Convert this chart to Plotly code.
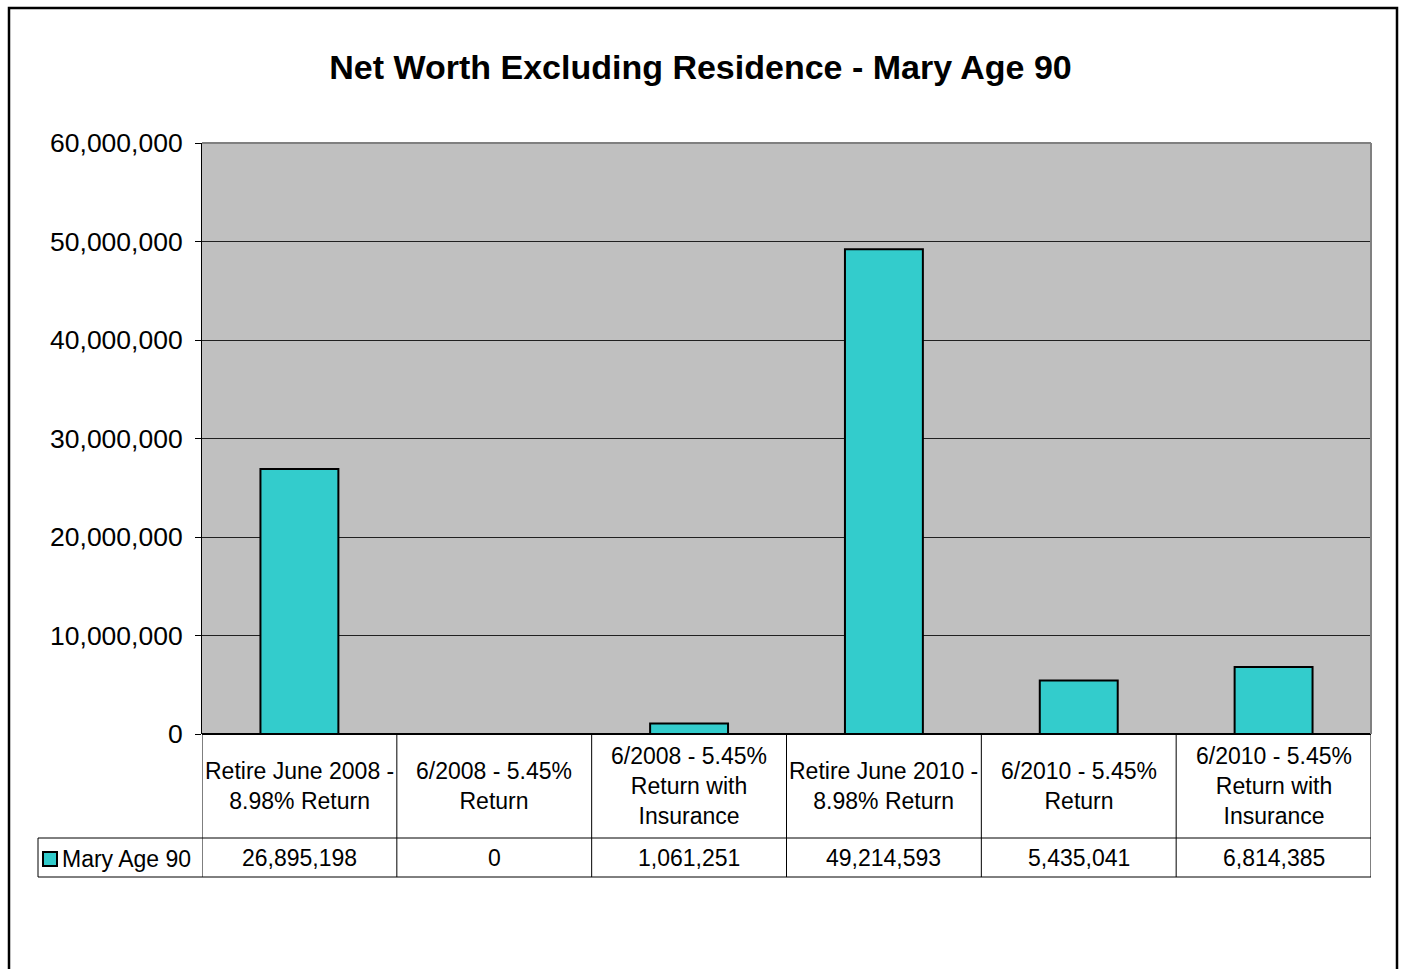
import plotly.graph_objects as go

categories = [
    "Retire June 2008 -<br>8.98% Return",
    "6/2008 - 5.45%<br>Return",
    "6/2008 - 5.45%<br>Return with<br>Insurance",
    "Retire June 2010 -<br>8.98% Return",
    "6/2010 - 5.45%<br>Return",
    "6/2010 - 5.45%<br>Return with<br>Insurance",
]
series_name = "Mary Age 90"
values = [26895198, 0, 1061251, 49214593, 5435041, 6814385]
y_ticks = [0, 10000000, 20000000, 30000000, 40000000, 50000000, 60000000]
title_text = "Net Worth Excluding Residence - Mary Age 90"

W, H = 1401, 969
FONT = "Arial, Liberation Sans, sans-serif"
TEAL = "#33CCCC"


def px_x(p):
    return p / W


def px_y(p):
    return 1 - p / H


plot_l, plot_r, plot_t, plot_b = 202, 1371, 143, 734
row1_b = 838
row2_b = 877
legend_l = 38

n = len(categories)
xcats = list(range(n))

fig = go.Figure()
fig.add_trace(go.Bar(
    x=xcats, y=values, name=series_name, width=0.4,
    marker=dict(color=TEAL, line=dict(color="black", width=2)),
    showlegend=False, hoverinfo="y",
))

shapes = []
# outer frame
shapes.append(dict(type="rect", xref="paper", yref="paper",
                   x0=px_x(9), x1=px_x(1397), y0=-0.1, y1=px_y(8),
                   line=dict(color="black", width=2.5)))
# plot-area top & right border (gray)
shapes.append(dict(type="line", xref="paper", yref="paper",
                   x0=px_x(plot_l), x1=px_x(plot_r), y0=px_y(plot_t), y1=px_y(plot_t),
                   line=dict(color="#808080", width=2)))
shapes.append(dict(type="line", xref="paper", yref="paper",
                   x0=px_x(plot_r), x1=px_x(plot_r), y0=px_y(plot_t), y1=px_y(plot_b),
                   line=dict(color="#808080", width=2)))
# data table lines
for i in range(n + 1):
    shapes.append(dict(type="line", xref="x", yref="paper",
                       x0=i - 0.5, x1=i - 0.5, y0=px_y(plot_b), y1=px_y(row2_b),
                       line=dict(color="black", width=1)))
for yy in (row1_b, row2_b):
    shapes.append(dict(type="line", xref="paper", yref="paper",
                       x0=px_x(legend_l), x1=px_x(plot_r), y0=px_y(yy), y1=px_y(yy),
                       line=dict(color="black", width=1)))
shapes.append(dict(type="line", xref="paper", yref="paper",
                   x0=px_x(legend_l), x1=px_x(legend_l), y0=px_y(row1_b), y1=px_y(row2_b),
                   line=dict(color="black", width=1)))
# legend key
shapes.append(dict(type="rect", xref="paper", yref="paper",
                   x0=px_x(43), x1=px_x(57), y0=px_y(866), y1=px_y(852),
                   fillcolor=TEAL, line=dict(color="black", width=2)))

annotations = []
for i, (c, v) in enumerate(zip(categories, values)):
    annotations.append(dict(x=i, xref="x", y=px_y((plot_b + row1_b) / 2), yref="paper",
                            text=c, showarrow=False, xanchor="center", yanchor="middle",
                            font=dict(family=FONT, size=23, color="black")))
    annotations.append(dict(x=i, xref="x", y=px_y((row1_b + row2_b) / 2), yref="paper",
                            text=f"{v:,}", showarrow=False, xanchor="center", yanchor="middle",
                            font=dict(family=FONT, size=23, color="black")))
annotations.append(dict(x=px_x(60), xref="paper", y=px_y((row1_b + row2_b) / 2 + 1), yref="paper",
                        text=series_name, showarrow=False, xanchor="left", yanchor="middle",
                        font=dict(family=FONT, size=23, color="black")))

fig.update_layout(
    template="none",
    width=W, height=H,
    margin=dict(l=0, r=0, t=0, b=0, pad=0, autoexpand=False),
    paper_bgcolor="white", plot_bgcolor="#C0C0C0",
    title=dict(text="<b>" + title_text + "</b>", x=0.5, xanchor="center",
               y=px_y(67), yanchor="middle",
               font=dict(family=FONT, size=34, color="black")),
    xaxis=dict(domain=[px_x(plot_l), px_x(plot_r)], range=[-0.5, n - 0.5],
               showticklabels=False, showgrid=False, zeroline=False,
               showline=False, ticks="", automargin=False, fixedrange=True),
    yaxis=dict(domain=[px_y(plot_b), px_y(plot_t)], range=[0, 60000000],
               tickvals=y_ticks, tickformat=",d", automargin=False, fixedrange=True,
               ticks="outside", ticklen=6, tickcolor="black", tickwidth=1,
               ticklabelstandoff=7,
               showline=True, linecolor="black", linewidth=1,
               showgrid=True, gridcolor="#202020", gridwidth=1,
               zeroline=True, zerolinecolor="black", zerolinewidth=2,
               tickfont=dict(family=FONT, size=26.5, color="black")),
    shapes=shapes, annotations=annotations,
    bargap=0.6,
)

fig.write_html("out.html", config={"displayModeBar": False},
               post_script="document.body.style.margin='0';")
